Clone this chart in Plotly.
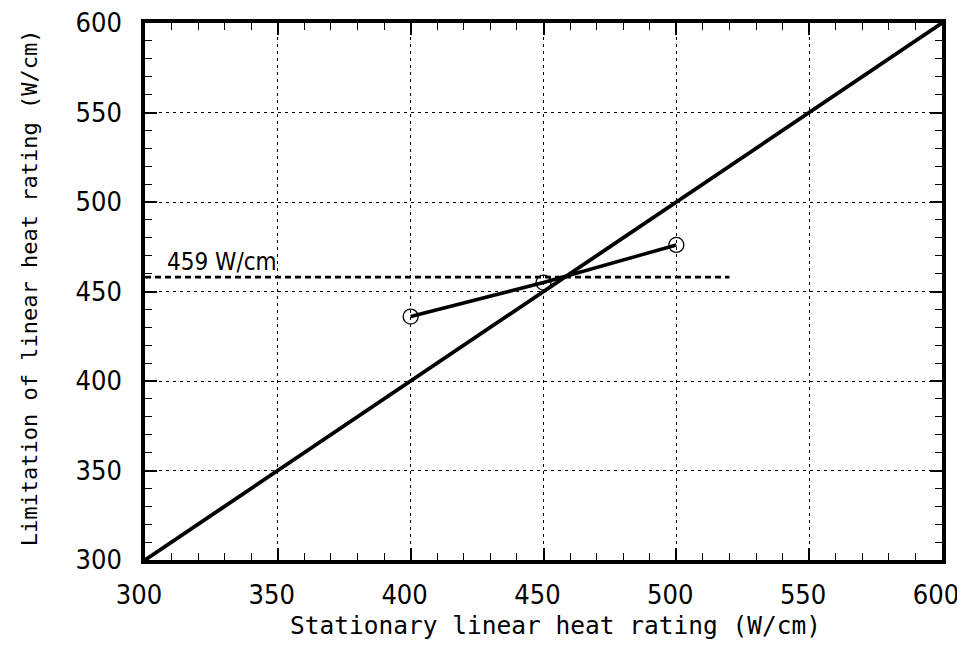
import plotly.graph_objects as go

# Data
stationary = [400, 450, 500]
limitation = [436, 455, 476]
diag_x = [300, 600]
diag_y = [300, 600]
limit_value = 458
limit_x = [300, 520]
limit_label = "459 W/cm"
x_ticks = [300, 350, 400, 450, 500, 550, 600]
y_ticks = [300, 350, 400, 450, 500, 550, 600]
x_title = "Stationary linear heat rating (W/cm)"
y_title = "Limitation of linear heat rating (W/cm)"

fig = go.Figure()

fig.add_trace(go.Scatter(x=diag_x, y=diag_y, mode="lines",
                         line=dict(color="black", width=3.8), showlegend=False))
fig.add_trace(go.Scatter(x=limit_x, y=[limit_value, limit_value], mode="lines",
                         line=dict(color="black", width=2.8, dash="6px,4px"), showlegend=False))
fig.add_trace(go.Scatter(x=stationary, y=limitation, mode="lines+markers",
                         line=dict(color="black", width=3.5),
                         marker=dict(symbol="circle-open", size=15, color="black",
                                     line=dict(width=1.3)),
                         showlegend=False))

narrow = "DejaVu Sans Condensed, Liberation Sans Narrow, Arial Narrow, Liberation Sans"
mono = "DejaVu Sans Mono, Liberation Mono"

fig.add_annotation(x=307.5, y=466.5, text=limit_label, showarrow=False,
                   xanchor="left", yanchor="middle",
                   font=dict(family=narrow, size=24, color="black"))
fig.add_annotation(x=0.515, y=-0.1227, xref="paper", yref="paper", text=x_title,
                   showarrow=False, xanchor="center", yanchor="middle",
                   font=dict(family=mono, size=24.5, color="black"))
fig.add_annotation(x=-0.1454, y=0.5065, xref="paper", yref="paper", text=y_title,
                   showarrow=False, xanchor="center", yanchor="middle", textangle=-90,
                   font=dict(family=mono, size=22, color="black"))

tickfont = dict(family=narrow, size=27, color="black")

common = dict(showline=True, linecolor="black", linewidth=3.5, mirror="ticks",
              ticks="inside", ticklen=12, tickwidth=1.5, tickcolor="black",
              showgrid=True, gridcolor="black", gridwidth=1, griddash="3px,4px",
              zeroline=False, tickfont=tickfont, automargin=False,
              ticklabeloverflow="allow",
              minor=dict(ticks="inside", ticklen=7, tickwidth=1.2, tickcolor="black",
                         dtick=10, showgrid=False))

fig.update_xaxes(range=[300, 600], tickvals=x_ticks,
                 ticktext=[f"{v}\u2002" for v in x_ticks],
                 ticklabelstandoff=8, **common)
fig.update_yaxes(range=[300, 600], tickvals=y_ticks, ticklabelstandoff=14, **common)

fig.update_layout(width=949, height=631, plot_bgcolor="white", paper_bgcolor="white",
                  margin=dict(l=137, r=15, t=15, b=79))

fig.write_html("out.html")
